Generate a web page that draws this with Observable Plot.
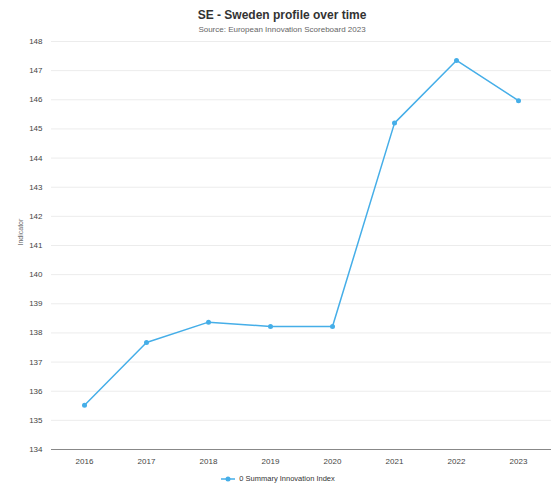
<!DOCTYPE html>
<html>
<head>
<meta charset="utf-8">
<script src="https://cdn.jsdelivr.net/npm/d3@7"></script>
<script src="https://cdn.jsdelivr.net/npm/@observablehq/plot@0.6"></script>
<style>
  body { margin: 0; background: #fff; font-family: "Liberation Sans", Arial, sans-serif; }
  #wrap { width: 556px; height: 490px; position: relative; overflow: hidden; }
  #title { position: absolute; top: 8px; left: 0; width: 564px; text-align: center; font-size: 12px; font-weight: bold; color: #333; }
  #subtitle { position: absolute; top: 25px; left: 0; width: 564px; text-align: center; font-size: 8px; color: #666; }
  #chart { position: absolute; top: 36px; left: 0; }
  #legend { position: absolute; top: 474px; left: 0; width: 556px; text-align: center; font-size: 7.5px; color: #333; }
  #legend svg { vertical-align: middle; }
</style>
</head>
<body>
<div id="wrap">
  <div id="title">SE - Sweden profile over time</div>
  <div id="subtitle">Source: European Innovation Scoreboard 2023</div>
  <div id="chart"></div>
  <div id="legend"></div>
</div>
<script>
const years = ["2016", "2017", "2018", "2019", "2020", "2021", "2022", "2023"];
const values = [135.52, 137.67, 138.37, 138.22, 138.22, 145.2, 147.35, 145.97];
const yTicks = [134, 135, 136, 137, 138, 139, 140, 141, 142, 143, 144, 145, 146, 147, 148];
const seriesName = "0 Summary Innovation Index";
const lineColor = "#45aee8";

const data = years.map((y, i) => ({year: y, value: values[i]}));

const chart = Plot.plot({
  width: 556,
  height: 434,
  marginTop: 5,
  marginBottom: 21,
  marginLeft: 51,
  marginRight: 5,
  style: {fontFamily: "Liberation Sans, Arial, sans-serif", fontSize: "8px", color: "#444", background: "transparent"},
  x: {type: "point", domain: years, padding: 0.5, label: null, tickSize: 0, tickPadding: 9},
  y: {domain: [134, 148], ticks: yTicks, label: null, tickSize: 0, tickPadding: 9},
  marks: [
    Plot.ruleY(yTicks.filter(t => t > 134), {stroke: "#ececec", strokeWidth: 1}),
    Plot.ruleY([134], {stroke: "#888", strokeWidth: 1}),
    Plot.line(data, {x: "year", y: "value", stroke: lineColor, strokeWidth: 1.5}),
    Plot.dot(data, {x: "year", y: "value", fill: lineColor, r: 2.5}),
    Plot.text(["Indicator"], {frameAnchor: "left", dx: -31, rotate: -90, fontSize: 7, fill: "#666", text: d => d})
  ]
});
document.getElementById("chart").appendChild(chart);

const leg = document.getElementById("legend");
leg.innerHTML = `<svg width="16" height="8"><line x1="0" y1="4" x2="14" y2="4" stroke="${lineColor}" stroke-width="1.5"/><circle cx="7" cy="4" r="2.5" fill="${lineColor}"/></svg> ${seriesName}`;
</script>
</body>
</html>
